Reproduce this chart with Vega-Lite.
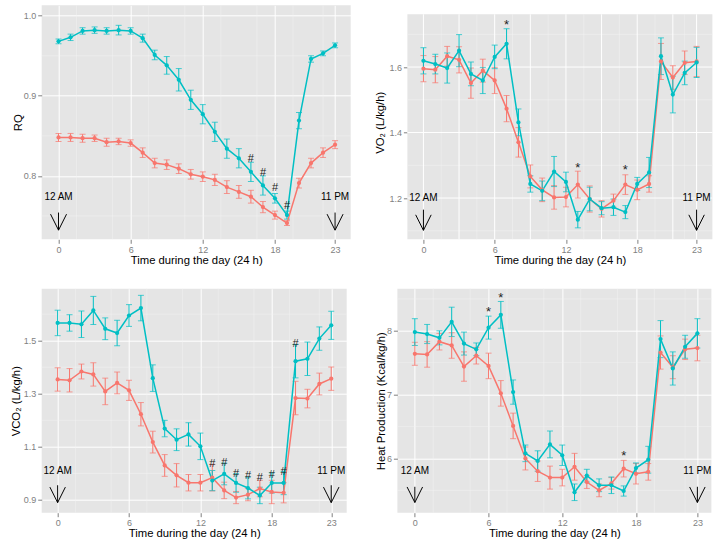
{
  "$schema": "https://vega.github.io/schema/vega-lite/v6.json",
  "background": "white",
  "padding": {"left": 10.7, "top": 4.3, "right": 0, "bottom": 0},
  "config": {
    "font": "Liberation Sans",
    "view": {"fill": "#E5E5E5", "stroke": null},
    "axis": {"domain": false, "gridColor": "white", "gridWidth": 1, "tickColor": "#7F7F7F", "tickSize": 4, "labelColor": "#7F7F7F", "labelFontSize": 9, "labelFont": "Liberation Sans", "titleFont": "Liberation Sans", "titleFontSize": 11.3, "titleFontWeight": "normal", "titleColor": "black", "labelPadding": 2, "labelOverlap": false, "labelFlush": false},
    "axisX": {"titlePadding": 0},
    "line": {"strokeWidth": 1.5}
  },
  "datasets": {
    "minx": [{"h": 1.5}, {"h": 4.5}, {"h": 7.5}, {"h": 10.5}, {"h": 13.5}, {"h": 16.5}, {"h": 19.5}, {"h": 22}],
    "majx": [{"h": 0}, {"h": 3}, {"h": 6}, {"h": 9}, {"h": 12}, {"h": 15}, {"h": 18}, {"h": 21}, {"h": 23}],
    "rq_miny": [{"m": 0.75}, {"m": 0.85}, {"m": 0.95}],
    "vo2_miny": [{"m": 1.1}, {"m": 1.3}, {"m": 1.5}, {"m": 1.7}],
    "vo2_majy": [{"m": 1.2}, {"m": 1.4}, {"m": 1.6}],
    "vco2_miny": [{"m": 1.0}, {"m": 1.2}, {"m": 1.4}, {"m": 1.6}],
    "heat_miny": [{"m": 5.5}, {"m": 6.5}, {"m": 7.5}, {"m": 8.5}],
    "rq": [
      {"h":0,"g":"A","m":0.848,"se":0.005},{"h":1,"g":"A","m":0.848,"se":0.005},{"h":2,"g":"A","m":0.847,"se":0.005},{"h":3,"g":"A","m":0.847,"se":0.004},{"h":4,"g":"A","m":0.842,"se":0.005},{"h":5,"g":"A","m":0.843,"se":0.004},{"h":6,"g":"A","m":0.841,"se":0.004},{"h":7,"g":"A","m":0.829,"se":0.006},{"h":8,"g":"A","m":0.816,"se":0.006},{"h":9,"g":"A","m":0.814,"se":0.006},{"h":10,"g":"A","m":0.809,"se":0.006},{"h":11,"g":"A","m":0.802,"se":0.006},{"h":12,"g":"A","m":0.799,"se":0.006},{"h":13,"g":"A","m":0.795,"se":0.007},{"h":14,"g":"A","m":0.786,"se":0.008},{"h":15,"g":"A","m":0.780,"se":0.008},{"h":16,"g":"A","m":0.774,"se":0.008},{"h":17,"g":"A","m":0.761,"se":0.007},{"h":18,"g":"A","m":0.751,"se":0.005},{"h":19,"g":"A","m":0.741,"se":0.003},{"h":20,"g":"A","m":0.791,"se":0.006},{"h":21,"g":"A","m":0.816,"se":0.006},{"h":22,"g":"A","m":0.829,"se":0.006},{"h":23,"g":"A","m":0.839,"se":0.005},
      {"h":0,"g":"B","m":0.968,"se":0.003},{"h":1,"g":"B","m":0.973,"se":0.004},{"h":2,"g":"B","m":0.981,"se":0.004},{"h":3,"g":"B","m":0.982,"se":0.004},{"h":4,"g":"B","m":0.981,"se":0.004},{"h":5,"g":"B","m":0.982,"se":0.006},{"h":6,"g":"B","m":0.981,"se":0.004},{"h":7,"g":"B","m":0.972,"se":0.005},{"h":8,"g":"B","m":0.951,"se":0.006},{"h":9,"g":"B","m":0.938,"se":0.011},{"h":10,"g":"B","m":0.920,"se":0.014},{"h":11,"g":"B","m":0.895,"se":0.012},{"h":12,"g":"B","m":0.877,"se":0.012},{"h":13,"g":"B","m":0.855,"se":0.012},{"h":14,"g":"B","m":0.834,"se":0.012},{"h":15,"g":"B","m":0.822,"se":0.012},{"h":16,"g":"B","m":0.805,"se":0.012},{"h":17,"g":"B","m":0.788,"se":0.012},{"h":18,"g":"B","m":0.772,"se":0.006},{"h":19,"g":"B","m":0.751,"se":0.005},{"h":20,"g":"B","m":0.869,"se":0.010},{"h":21,"g":"B","m":0.946,"se":0.004},{"h":22,"g":"B","m":0.953,"se":0.003},{"h":23,"g":"B","m":0.963,"se":0.003}
    ],
    "vo2": [
      {"h":0,"g":"A","m":1.595,"se":0.040},{"h":1,"g":"A","m":1.592,"se":0.040},{"h":2,"g":"A","m":1.633,"se":0.030},{"h":3,"g":"A","m":1.622,"se":0.040},{"h":4,"g":"A","m":1.551,"se":0.046},{"h":5,"g":"A","m":1.589,"se":0.035},{"h":6,"g":"A","m":1.559,"se":0.040},{"h":7,"g":"A","m":1.473,"se":0.040},{"h":8,"g":"A","m":1.370,"se":0.045},{"h":9,"g":"A","m":1.266,"se":0.035},{"h":10,"g":"A","m":1.225,"se":0.036},{"h":11,"g":"A","m":1.202,"se":0.036},{"h":12,"g":"A","m":1.203,"se":0.030},{"h":13,"g":"A","m":1.241,"se":0.041},{"h":14,"g":"A","m":1.197,"se":0.040},{"h":15,"g":"A","m":1.167,"se":0.025},{"h":16,"g":"A","m":1.192,"se":0.020},{"h":17,"g":"A","m":1.241,"se":0.030},{"h":18,"g":"A","m":1.225,"se":0.030},{"h":19,"g":"A","m":1.243,"se":0.025},{"h":20,"g":"A","m":1.617,"se":0.055},{"h":21,"g":"A","m":1.568,"se":0.036},{"h":22,"g":"A","m":1.613,"se":0.036},{"h":23,"g":"A","m":1.617,"se":0.046},
      {"h":0,"g":"B","m":1.619,"se":0.040},{"h":1,"g":"B","m":1.609,"se":0.030},{"h":2,"g":"B","m":1.597,"se":0.046},{"h":3,"g":"B","m":1.650,"se":0.049},{"h":4,"g":"B","m":1.579,"se":0.036},{"h":5,"g":"B","m":1.559,"se":0.040},{"h":6,"g":"B","m":1.631,"se":0.036},{"h":7,"g":"B","m":1.671,"se":0.046},{"h":8,"g":"B","m":1.431,"se":0.041},{"h":9,"g":"B","m":1.243,"se":0.025},{"h":10,"g":"B","m":1.222,"se":0.030},{"h":11,"g":"B","m":1.281,"se":0.046},{"h":12,"g":"B","m":1.249,"se":0.030},{"h":13,"g":"B","m":1.134,"se":0.025},{"h":14,"g":"B","m":1.197,"se":0.036},{"h":15,"g":"B","m":1.169,"se":0.020},{"h":16,"g":"B","m":1.172,"se":0.025},{"h":17,"g":"B","m":1.157,"se":0.020},{"h":18,"g":"B","m":1.243,"se":0.020},{"h":19,"g":"B","m":1.278,"se":0.046},{"h":20,"g":"B","m":1.633,"se":0.056},{"h":21,"g":"B","m":1.516,"se":0.056},{"h":22,"g":"B","m":1.582,"se":0.036},{"h":23,"g":"B","m":1.614,"se":0.046}
    ],
    "vco2": [
      {"h":0,"g":"A","m":1.354,"se":0.044},{"h":1,"g":"A","m":1.351,"se":0.044},{"h":2,"g":"A","m":1.384,"se":0.028},{"h":3,"g":"A","m":1.373,"se":0.044},{"h":4,"g":"A","m":1.309,"se":0.050},{"h":5,"g":"A","m":1.341,"se":0.041},{"h":6,"g":"A","m":1.313,"se":0.038},{"h":7,"g":"A","m":1.223,"se":0.044},{"h":8,"g":"A","m":1.118,"se":0.041},{"h":9,"g":"A","m":1.030,"se":0.041},{"h":10,"g":"A","m":0.993,"se":0.044},{"h":11,"g":"A","m":0.965,"se":0.031},{"h":12,"g":"A","m":0.965,"se":0.031},{"h":13,"g":"A","m":0.984,"se":0.050},{"h":14,"g":"A","m":0.936,"se":0.031},{"h":15,"g":"A","m":0.909,"se":0.023},{"h":16,"g":"A","m":0.920,"se":0.023},{"h":17,"g":"A","m":0.943,"se":0.031},{"h":18,"g":"A","m":0.930,"se":0.044},{"h":19,"g":"A","m":0.927,"se":0.038},{"h":20,"g":"A","m":1.284,"se":0.063},{"h":21,"g":"A","m":1.282,"se":0.035},{"h":22,"g":"A","m":1.337,"se":0.041},{"h":23,"g":"A","m":1.357,"se":0.044},
      {"h":0,"g":"B","m":1.567,"se":0.048},{"h":1,"g":"B","m":1.567,"se":0.031},{"h":2,"g":"B","m":1.562,"se":0.050},{"h":3,"g":"B","m":1.614,"se":0.053},{"h":4,"g":"B","m":1.545,"se":0.041},{"h":5,"g":"B","m":1.529,"se":0.048},{"h":6,"g":"B","m":1.595,"se":0.041},{"h":7,"g":"B","m":1.623,"se":0.048},{"h":8,"g":"B","m":1.359,"se":0.050},{"h":9,"g":"B","m":1.169,"se":0.031},{"h":10,"g":"B","m":1.127,"se":0.041},{"h":11,"g":"B","m":1.147,"se":0.044},{"h":12,"g":"B","m":1.102,"se":0.050},{"h":13,"g":"B","m":0.973,"se":0.038},{"h":14,"g":"B","m":0.998,"se":0.041},{"h":15,"g":"B","m":0.964,"se":0.035},{"h":16,"g":"B","m":0.945,"se":0.041},{"h":17,"g":"B","m":0.917,"se":0.031},{"h":18,"g":"B","m":0.964,"se":0.038},{"h":19,"g":"B","m":0.964,"se":0.044},{"h":20,"g":"B","m":1.423,"se":0.063},{"h":21,"g":"B","m":1.432,"se":0.063},{"h":22,"g":"B","m":1.508,"se":0.044},{"h":23,"g":"B","m":1.558,"se":0.053}
    ],
    "heat": [
      {"h":0,"g":"A","m":7.64,"se":0.18},{"h":1,"g":"A","m":7.63,"se":0.20},{"h":2,"g":"A","m":7.83,"se":0.13},{"h":3,"g":"A","m":7.77,"se":0.20},{"h":4,"g":"A","m":7.44,"se":0.23},{"h":5,"g":"A","m":7.61,"se":0.13},{"h":6,"g":"A","m":7.45,"se":0.20},{"h":7,"g":"A","m":7.02,"se":0.20},{"h":8,"g":"A","m":6.51,"se":0.20},{"h":9,"g":"A","m":6.00,"se":0.18},{"h":10,"g":"A","m":5.80,"se":0.16},{"h":11,"g":"A","m":5.70,"se":0.18},{"h":12,"g":"A","m":5.70,"se":0.13},{"h":13,"g":"A","m":5.87,"se":0.21},{"h":14,"g":"A","m":5.63,"se":0.10},{"h":15,"g":"A","m":5.50,"se":0.10},{"h":16,"g":"A","m":5.61,"se":0.09},{"h":17,"g":"A","m":5.84,"se":0.13},{"h":18,"g":"A","m":5.76,"se":0.16},{"h":19,"g":"A","m":5.79,"se":0.13},{"h":20,"g":"A","m":7.66,"se":0.26},{"h":21,"g":"A","m":7.43,"se":0.18},{"h":22,"g":"A","m":7.71,"se":0.16},{"h":23,"g":"A","m":7.73,"se":0.20},
      {"h":0,"g":"B","m":7.98,"se":0.21},{"h":1,"g":"B","m":7.95,"se":0.15},{"h":2,"g":"B","m":7.89,"se":0.11},{"h":3,"g":"B","m":8.14,"se":0.23},{"h":4,"g":"B","m":7.80,"se":0.18},{"h":5,"g":"B","m":7.71,"se":0.10},{"h":6,"g":"B","m":8.05,"se":0.18},{"h":7,"g":"B","m":8.25,"se":0.21},{"h":8,"g":"B","m":7.04,"se":0.19},{"h":9,"g":"B","m":6.08,"se":0.13},{"h":10,"g":"B","m":5.96,"se":0.16},{"h":11,"g":"B","m":6.22,"se":0.21},{"h":12,"g":"B","m":6.05,"se":0.16},{"h":13,"g":"B","m":5.47,"se":0.13},{"h":14,"g":"B","m":5.73,"se":0.10},{"h":15,"g":"B","m":5.58,"se":0.10},{"h":16,"g":"B","m":5.58,"se":0.13},{"h":17,"g":"B","m":5.49,"se":0.08},{"h":18,"g":"B","m":5.85,"se":0.08},{"h":19,"g":"B","m":5.98,"se":0.21},{"h":20,"g":"B","m":7.87,"se":0.29},{"h":21,"g":"B","m":7.41,"se":0.26},{"h":22,"g":"B","m":7.75,"se":0.18},{"h":23,"g":"B","m":7.96,"se":0.23}
    ],
    "rq_ann": [{"h":16,"m":0.8207,"t":"#"},{"h":17,"m":0.8037,"t":"#"},{"h":18,"m":0.785,"t":"#"},{"h":19,"m":0.7622,"t":"#"}],
    "vo2_ann": [{"h":7,"m":1.7374,"t":"*"},{"h":13,"m":1.3018,"t":"*"},{"h":17,"m":1.2947,"t":"*"}],
    "vco2_ann": [{"h":13,"m":1.0342,"t":"#"},{"h":14,"m":1.0405,"t":"#"},{"h":15,"m":0.9991,"t":"#"},{"h":16,"m":0.9903,"t":"#"},{"h":17,"m":0.9827,"t":"#"},{"h":18,"m":0.9953,"t":"#"},{"h":19,"m":1.0053,"t":"#"},{"h":20,"m":1.4887,"t":"#"}],
    "heat_ann": [{"h":6,"m":8.339,"t":"*"},{"h":7,"m":8.569,"t":"*"},{"h":17,"m":6.089,"t":"*"}],
    "rq_arr": [{"h":0,"lab":"12 AM","yt":0.7734,"y1":0.7542,"y2":0.7322},{"h":23,"lab":"11 PM","yt":0.7734,"y1":0.7542,"y2":0.7322}],
    "vo2_arr": [{"h":0,"lab":"12 AM","yt":1.2,"y1":1.1645,"y2":1.1014},{"h":23,"lab":"11 PM","yt":1.2,"y1":1.1645,"y2":1.1014}],
    "vco2_arr": [{"h":0,"lab":"12 AM","yt":1.0096,"y1":0.9554,"y2":0.89},{"h":23,"lab":"11 PM","yt":1.0096,"y1":0.9554,"y2":0.89}],
    "heat_arr": [{"h":0,"lab":"12 AM","yt":5.8025,"y1":5.556,"y2":5.31},{"h":23,"lab":"11 PM","yt":5.8025,"y1":5.556,"y2":5.31}]
  },
  "resolve": {"scale": {"x": "independent", "y": "independent"}},
  "columns": 2,
  "align": "none",
  "spacing": {"row": 21.4, "column": 22.7},
  "concat": [
    {
      "width": 309, "height": 234,
      "layer": [
        {"data": {"name": "minx"}, "mark": {"type": "rule", "color": "#F2F2F2", "strokeWidth": 0.5},
         "encoding": {"x": {"field": "h", "type": "quantitative", "title": "Time during the day (24 h)", "scale": {"domain": [-1.4, 24.3], "nice": false, "zero": false}, "axis": {"values": [0,3,6,9,12,15,18,21,23], "labelOverlap": false}}}},
        {"data": {"name": "rq_miny"}, "mark": {"type": "rule", "color": "#F2F2F2", "strokeWidth": 0.5},
         "encoding": {"y": {"field": "m", "type": "quantitative", "title": "RQ", "scale": {"domain": [0.7208, 1.013], "nice": false, "zero": false}, "axis": {"values": [0.8, 0.9, 1.0], "format": ".1f", "minExtent": 18, "maxExtent": 18, "titlePadding": 0}}}},
        {"data": {"name": "rq"}, "mark": {"type": "errorbar", "ticks": {"size": 6}, "thickness": 1},
         "encoding": {"x": {"field": "h", "type": "quantitative", "title": "Time during the day (24 h)"}, "y": {"field": "m", "type": "quantitative", "title": "RQ"}, "yError": {"field": "se"}, "color": {"field": "g", "type": "nominal", "scale": {"domain": ["A", "B"], "range": ["#F8766D", "#00BFC4"]}, "legend": null}}},
        {"data": {"name": "rq"}, "mark": {"type": "line"},
         "encoding": {"x": {"field": "h", "type": "quantitative"}, "y": {"field": "m", "type": "quantitative"}, "color": {"field": "g", "type": "nominal", "legend": null}}},
        {"data": {"name": "rq"}, "mark": {"type": "point", "filled": true, "size": 18, "opacity": 1},
         "encoding": {"x": {"field": "h", "type": "quantitative"}, "y": {"field": "m", "type": "quantitative"}, "color": {"field": "g", "type": "nominal", "legend": null}}},
        {"data": {"name": "rq_ann"}, "mark": {"type": "text", "fontSize": 11, "color": "#222222"},
         "encoding": {"x": {"field": "h", "type": "quantitative"}, "y": {"field": "m", "type": "quantitative"}, "text": {"field": "t"}}},
        {"data": {"name": "rq_arr"}, "mark": {"type": "text", "fontSize": 10, "color": "black"},
         "encoding": {"x": {"field": "h", "type": "quantitative"}, "y": {"field": "yt", "type": "quantitative"}, "text": {"field": "lab"}}},
        {"data": {"name": "rq_arr"}, "mark": {"type": "rule", "color": "black", "strokeWidth": 1},
         "encoding": {"x": {"field": "h", "type": "quantitative"}, "y": {"field": "y1", "type": "quantitative"}, "y2": {"field": "y2"}}},
        {"data": {"name": "rq_arr"}, "mark": {"type": "point", "shape": "M-0.5,-1L0,0L0.5,-1", "size": 1024, "filled": false, "color": "black", "strokeWidth": 1, "opacity": 1},
         "encoding": {"x": {"field": "h", "type": "quantitative"}, "y": {"field": "y2", "type": "quantitative"}}}
      ]
    },
    {
      "width": 305, "height": 234,
      "view": {"fill": "white", "stroke": null},
      "layer": [
        {"data": {"values": [{}]}, "mark": {"type": "rect", "color": "#E5E5E5"},
         "encoding": {"x": {"datum": -1.35, "type": "quantitative", "title": "Time during the day (24 h)", "scale": {"domain": [-1.35, 24.33], "nice": false, "zero": false}, "axis": {"values": [0,3,6,9,12,15,18,21,23], "labelOverlap": false, "grid": false}}, "x2": {"datum": 24.33},
                      "y": {"datum": 1.074, "type": "quantitative", "title": "VO₂ (L/kg/h)", "scale": {"domain": [1.074, 1.7885], "nice": false, "zero": false}, "axis": {"values": [1.2, 1.4, 1.6], "format": ".1f", "minExtent": 18, "maxExtent": 18, "titlePadding": 4, "grid": false}}, "y2": {"datum": 1.761}}},
        {"data": {"name": "minx"}, "mark": {"type": "rule", "color": "#F2F2F2", "strokeWidth": 0.5},
         "encoding": {"x": {"field": "h", "type": "quantitative", "title": "Time during the day (24 h)"}, "y": {"datum": 1.074, "type": "quantitative", "title": "VO₂ (L/kg/h)"}, "y2": {"datum": 1.761}}},
        {"data": {"name": "vo2_miny"}, "mark": {"type": "rule", "color": "#F2F2F2", "strokeWidth": 0.5},
         "encoding": {"y": {"field": "m", "type": "quantitative", "title": "VO₂ (L/kg/h)"}}},
        {"data": {"name": "majx"}, "mark": {"type": "rule", "color": "white", "strokeWidth": 1},
         "encoding": {"x": {"field": "h", "type": "quantitative", "title": "Time during the day (24 h)"}, "y": {"datum": 1.074, "type": "quantitative", "title": "VO₂ (L/kg/h)"}, "y2": {"datum": 1.761}}},
        {"data": {"name": "vo2_majy"}, "mark": {"type": "rule", "color": "white", "strokeWidth": 1},
         "encoding": {"y": {"field": "m", "type": "quantitative", "title": "VO₂ (L/kg/h)"}}},
        {"data": {"name": "vo2"}, "mark": {"type": "errorbar", "ticks": {"size": 6}, "thickness": 1},
         "encoding": {"x": {"field": "h", "type": "quantitative", "title": "Time during the day (24 h)"}, "y": {"field": "m", "type": "quantitative", "title": "VO₂ (L/kg/h)"}, "yError": {"field": "se"}, "color": {"field": "g", "type": "nominal", "scale": {"domain": ["A", "B"], "range": ["#F8766D", "#00BFC4"]}, "legend": null}}},
        {"data": {"name": "vo2"}, "mark": {"type": "line"},
         "encoding": {"x": {"field": "h", "type": "quantitative"}, "y": {"field": "m", "type": "quantitative"}, "color": {"field": "g", "type": "nominal", "legend": null}}},
        {"data": {"name": "vo2"}, "mark": {"type": "point", "filled": true, "size": 18, "opacity": 1},
         "encoding": {"x": {"field": "h", "type": "quantitative"}, "y": {"field": "m", "type": "quantitative"}, "color": {"field": "g", "type": "nominal", "legend": null}}},
        {"data": {"name": "vo2_ann"}, "mark": {"type": "text", "fontSize": 13, "dy": 3, "color": "#222222"},
         "encoding": {"x": {"field": "h", "type": "quantitative"}, "y": {"field": "m", "type": "quantitative"}, "text": {"field": "t"}}},
        {"data": {"name": "vo2_arr"}, "mark": {"type": "text", "fontSize": 10, "color": "black"},
         "encoding": {"x": {"field": "h", "type": "quantitative"}, "y": {"field": "yt", "type": "quantitative"}, "text": {"field": "lab"}}},
        {"data": {"name": "vo2_arr"}, "mark": {"type": "rule", "color": "black", "strokeWidth": 1},
         "encoding": {"x": {"field": "h", "type": "quantitative"}, "y": {"field": "y1", "type": "quantitative"}, "y2": {"field": "y2"}}},
        {"data": {"name": "vo2_arr"}, "mark": {"type": "point", "shape": "M-0.5,-1L0,0L0.5,-1", "size": 961, "filled": false, "color": "black", "strokeWidth": 1, "opacity": 1},
         "encoding": {"x": {"field": "h", "type": "quantitative"}, "y": {"field": "y2", "type": "quantitative"}}}
      ]
    },
    {
      "width": 305, "height": 224,
      "layer": [
        {"data": {"name": "minx"}, "mark": {"type": "rule", "color": "#F2F2F2", "strokeWidth": 0.5},
         "encoding": {"x": {"field": "h", "type": "quantitative", "title": "Time during the day (24 h)", "scale": {"domain": [-1.34, 24.3], "nice": false, "zero": false}, "axis": {"values": [0,3,6,9,12,15,18,21,23], "labelOverlap": false}}}},
        {"data": {"name": "vco2_miny"}, "mark": {"type": "rule", "color": "#F2F2F2", "strokeWidth": 0.5},
         "encoding": {"y": {"field": "m", "type": "quantitative", "title": "VCO₂ (L/kg/h)", "scale": {"domain": [0.852, 1.696], "nice": false, "zero": false}, "axis": {"values": [0.9, 1.1, 1.3, 1.5], "format": ".1f", "minExtent": 18, "maxExtent": 18, "titlePadding": 2}}}},
        {"data": {"name": "vco2"}, "mark": {"type": "errorbar", "ticks": {"size": 6}, "thickness": 1},
         "encoding": {"x": {"field": "h", "type": "quantitative", "title": "Time during the day (24 h)"}, "y": {"field": "m", "type": "quantitative", "title": "VCO₂ (L/kg/h)"}, "yError": {"field": "se"}, "color": {"field": "g", "type": "nominal", "scale": {"domain": ["A", "B"], "range": ["#F8766D", "#00BFC4"]}, "legend": null}}},
        {"data": {"name": "vco2"}, "mark": {"type": "line"},
         "encoding": {"x": {"field": "h", "type": "quantitative"}, "y": {"field": "m", "type": "quantitative"}, "color": {"field": "g", "type": "nominal", "legend": null}}},
        {"data": {"name": "vco2"}, "mark": {"type": "point", "filled": true, "size": 18, "opacity": 1},
         "encoding": {"x": {"field": "h", "type": "quantitative"}, "y": {"field": "m", "type": "quantitative"}, "color": {"field": "g", "type": "nominal", "legend": null}}},
        {"data": {"name": "vco2_ann"}, "mark": {"type": "text", "fontSize": 11, "color": "#222222"},
         "encoding": {"x": {"field": "h", "type": "quantitative"}, "y": {"field": "m", "type": "quantitative"}, "text": {"field": "t"}}},
        {"data": {"name": "vco2_arr"}, "mark": {"type": "text", "fontSize": 10, "color": "black"},
         "encoding": {"x": {"field": "h", "type": "quantitative"}, "y": {"field": "yt", "type": "quantitative"}, "text": {"field": "lab"}}},
        {"data": {"name": "vco2_arr"}, "mark": {"type": "rule", "color": "black", "strokeWidth": 1},
         "encoding": {"x": {"field": "h", "type": "quantitative"}, "y": {"field": "y1", "type": "quantitative"}, "y2": {"field": "y2"}}},
        {"data": {"name": "vco2_arr"}, "mark": {"type": "point", "shape": "M-0.5,-1L0,0L0.5,-1", "size": 961, "filled": false, "color": "black", "strokeWidth": 1, "opacity": 1},
         "encoding": {"x": {"field": "h", "type": "quantitative"}, "y": {"field": "y2", "type": "quantitative"}}}
      ]
    },
    {
      "width": 314, "height": 224,
      "layer": [
        {"data": {"name": "minx"}, "mark": {"type": "rule", "color": "#F2F2F2", "strokeWidth": 0.5},
         "encoding": {"x": {"field": "h", "type": "quantitative", "title": "Time during the day (24 h)", "scale": {"domain": [-1.42, 24.14], "nice": false, "zero": false}, "axis": {"values": [0,3,6,9,12,15,18,21,23], "labelOverlap": false}}}},
        {"data": {"name": "heat_miny"}, "mark": {"type": "rule", "color": "#F2F2F2", "strokeWidth": 0.5},
         "encoding": {"y": {"field": "m", "type": "quantitative", "title": "Heat Production (Kcal/kg/h)", "scale": {"domain": [5.15, 8.66], "nice": false, "zero": false}, "axis": {"values": [6, 7, 8], "format": "d", "minExtent": 10, "maxExtent": 10, "titlePadding": 1.3}}}},
        {"data": {"name": "heat"}, "mark": {"type": "errorbar", "ticks": {"size": 6}, "thickness": 1},
         "encoding": {"x": {"field": "h", "type": "quantitative", "title": "Time during the day (24 h)"}, "y": {"field": "m", "type": "quantitative", "title": "Heat Production (Kcal/kg/h)"}, "yError": {"field": "se"}, "color": {"field": "g", "type": "nominal", "scale": {"domain": ["A", "B"], "range": ["#F8766D", "#00BFC4"]}, "legend": null}}},
        {"data": {"name": "heat"}, "mark": {"type": "line"},
         "encoding": {"x": {"field": "h", "type": "quantitative"}, "y": {"field": "m", "type": "quantitative"}, "color": {"field": "g", "type": "nominal", "legend": null}}},
        {"data": {"name": "heat"}, "mark": {"type": "point", "filled": true, "size": 18, "opacity": 1},
         "encoding": {"x": {"field": "h", "type": "quantitative"}, "y": {"field": "m", "type": "quantitative"}, "color": {"field": "g", "type": "nominal", "legend": null}}},
        {"data": {"name": "heat_ann"}, "mark": {"type": "text", "fontSize": 13, "dy": 3, "color": "#222222"},
         "encoding": {"x": {"field": "h", "type": "quantitative"}, "y": {"field": "m", "type": "quantitative"}, "text": {"field": "t"}}},
        {"data": {"name": "heat_arr"}, "mark": {"type": "text", "fontSize": 10, "color": "black"},
         "encoding": {"x": {"field": "h", "type": "quantitative"}, "y": {"field": "yt", "type": "quantitative"}, "text": {"field": "lab"}}},
        {"data": {"name": "heat_arr"}, "mark": {"type": "rule", "color": "black", "strokeWidth": 1},
         "encoding": {"x": {"field": "h", "type": "quantitative"}, "y": {"field": "y1", "type": "quantitative"}, "y2": {"field": "y2"}}},
        {"data": {"name": "heat_arr"}, "mark": {"type": "point", "shape": "M-0.5,-1L0,0L0.5,-1", "size": 961, "filled": false, "color": "black", "strokeWidth": 1, "opacity": 1},
         "encoding": {"x": {"field": "h", "type": "quantitative"}, "y": {"field": "y2", "type": "quantitative"}}}
      ]
    }
  ]
}
